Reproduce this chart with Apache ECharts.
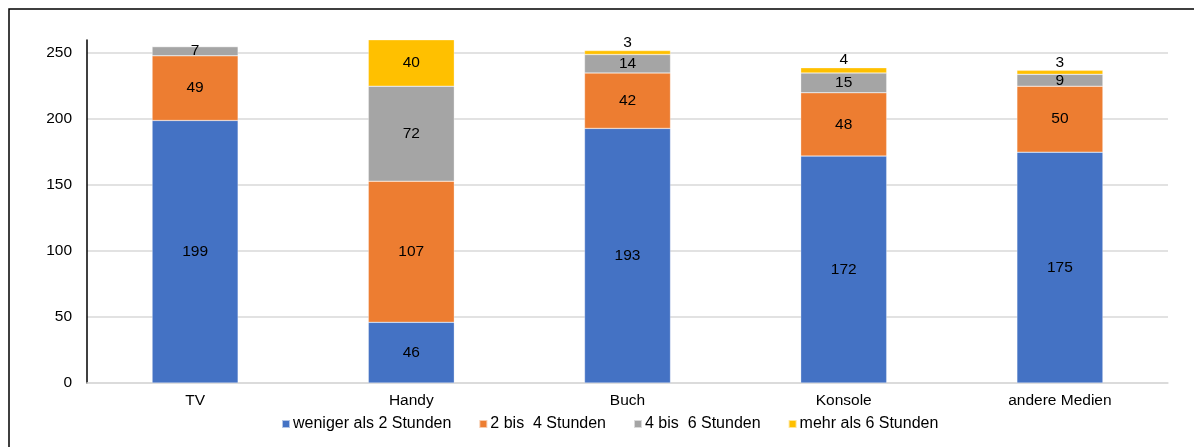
<!DOCTYPE html>
<html>
<head>
<meta charset="utf-8">
<script src="https://cdn.jsdelivr.net/npm/echarts@6/dist/echarts.min.js"></script>
<style>
  html, body { margin: 0; padding: 0; background: #fff; }
  #chart { width: 1194px; height: 447px; }
</style>
</head>
<body>
<div id="chart"></div>
<script>
var categories = ['TV', 'Handy', 'Buch', 'Konsole', 'andere Medien'];
var seriesNames = ['weniger als 2 Stunden', '2 bis  4 Stunden', '4 bis  6 Stunden', 'mehr als 6 Stunden'];
var lt2 = [199, 46, 193, 172, 175];
var b2to4 = [49, 107, 42, 48, 50];
var b4to6 = [7, 72, 14, 15, 9];
var gt6 = [0, 40, 3, 4, 3];
var colors = ['#4472C4', '#ED7D31', '#A5A5A5', '#FFC000'];

var chart = echarts.init(document.getElementById('chart'));
var font = 'Liberation Sans, Arial, sans-serif';

var allData = [lt2, b2to4, b4to6, gt6];
var series = allData.map(function (vals, i) {
    return {
        name: seriesNames[i],
        type: 'bar',
        stack: 'total',
        barWidth: 86,
        // thin segments on top get their label above the bar
        data: vals.map(function (v) {
            if (i === 3 && v < 10) {
                return { value: v, label: { position: 'top', distance: 0 } };
            }
            return v;
        }),
        itemStyle: { color: colors[i], borderColor: 'rgba(255,255,255,0.6)', borderWidth: 0.5 },
        label: {
            show: true,
            position: 'inside',
            color: '#000',
            fontFamily: font,
            fontSize: 15.5,
            formatter: function (p) { return p.value ? p.value : ''; }
        }
    };
});

var option = {
    animation: false,
    textStyle: { fontFamily: font },
    graphic: [{
        type: 'rect',
        shape: { x: 9, y: 9, width: 1300, height: 600 },
        style: { fill: 'none', stroke: '#000', lineWidth: 1.5 },
        silent: true
    }],
    legend: {
        top: 411,
        left: 276,
        itemWidth: 8,
        itemHeight: 8,
        itemGap: 27,
        icon: 'rect',
        textStyle: { fontSize: 16, color: '#000', padding: [0, 0, 0, -2] },
        data: seriesNames
    },
    grid: { left: 87, right: 26, top: 40, bottom: 64 },
    xAxis: {
        type: 'category',
        data: categories,
        axisLine: { lineStyle: { color: '#d9d9d9', width: 1.5 } },
        axisTick: { show: false },
        axisLabel: { color: '#000', fontSize: 15.5, margin: 10 }
    },
    yAxis: {
        type: 'value',
        min: 0,
        max: 260,
        interval: 50,
        axisLine: { show: true, lineStyle: { color: '#000', width: 1.5 } },
        axisTick: { show: false },
        axisLabel: { color: '#000', fontSize: 15.5, margin: 15, showMaxLabel: false },
        splitLine: { show: true, showMaxLine: false, lineStyle: { color: '#d9d9d9', width: 1.5 } }
    },
    series: series
};

chart.setOption(option);
</script>
</body>
</html>
